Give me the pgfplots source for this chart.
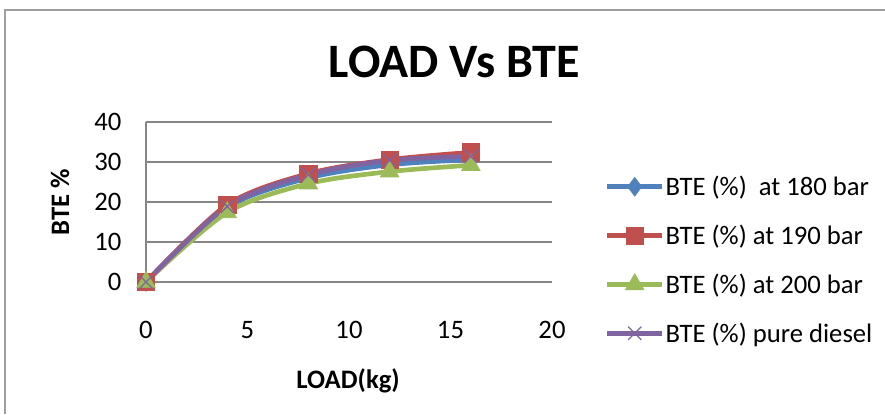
\documentclass[border=0pt]{standalone}
\usepackage{fontspec}
\setmainfont{Carlito}
\usepackage{pgfplots}
\pgfplotsset{compat=1.18}
\definecolor{xblue}{HTML}{4F81BD}
\definecolor{xred}{HTML}{C0504D}
\definecolor{xgreen}{HTML}{9BBB59}
\definecolor{xpurple}{HTML}{8064A2}
\definecolor{xgrid}{HTML}{868686}
\begin{document}
\begin{tikzpicture}[x=0.75pt,y=0.75pt]
\path[use as bounding box] (0,0) rectangle (885,414);
\draw[xgrid!80,line width=1pt] (5,0) -- (5,404) -- (885,404);
\begin{axis}[
  at={(146*0.75pt,132*0.75pt)}, anchor=south west,
  scale only axis, width=406*0.75pt, height=160*0.75pt,
  xmin=0, xmax=20, ymin=0, ymax=40,
  xtick={0,5,10,15,20}, ytick={0,10,20,30,40},
  axis lines*=left,
  x axis line style={draw=none},
  y axis line style={xgrid, line width=0.8pt, -},
  ymajorgrids, grid style={xgrid, line width=1.2pt},
  major tick length=0pt,
  /pgf/number format/assume math mode=true,
  ticklabel style={font=\fontsize{20}{24}\selectfont},
  xticklabel style={yshift=-26pt},
  yticklabel style={xshift=-15pt},
  clip=false,
  legend style={draw=none, fill=none, at={(1.13,0.1375)}, anchor=west,
    font=\fontsize{20}{24}\selectfont, inner sep=0pt, row sep=18.5pt,
    nodes={inner sep=1pt}},
  legend cell align=left,
  legend image code/.code={\draw[mark repeat=2,mark phase=2,#1] plot coordinates {(0pt,0pt) (20.5pt,0pt) (41pt,0pt)};},
  every axis plot/.append style={line width=3.5pt, smooth},
]
\addplot[xblue, mark=diamond*, mark size=7pt, mark options={line width=0.5pt, fill=xblue}] coordinates {(0,0) (4,18.6) (8,26.0) (12,29.3) (16,30.6)};
\addlegendentry{BTE (\%)\ \ at 180 bar}
\addplot[xred, mark=square*, mark size=6.5pt, mark options={line width=0.5pt, fill=xred}] coordinates {(0,0) (4,19.3) (8,27.1) (12,30.6) (16,32.4)};
\addlegendentry{BTE (\%) at 190 bar}
\addplot[xgreen, mark=triangle*, mark size=8pt, mark options={line width=0.5pt, fill=xgreen}] coordinates {(0,0) (4,17.4) (8,24.6) (12,27.6) (16,29.2)};
\addlegendentry{BTE (\%) at 200 bar}
\addplot[xpurple, mark=x, mark size=7pt, mark options={line width=1pt}] coordinates {(0,0) (4,18.9) (8,26.8) (12,30.4) (16,31.4)};
\addlegendentry{BTE (\%) pure diesel}
\end{axis}
\node[font=\fontsize{36}{42}\selectfont\bfseries] at (454,414-62) {LOAD Vs BTE};
\node[font=\fontsize{20}{24}\selectfont\bfseries] at (348,414-381) {LOAD(kg)};
\node[font=\fontsize{20}{24}\selectfont\bfseries, rotate=90] at (60,414-202) {BTE \%};
\end{tikzpicture}
\end{document}
